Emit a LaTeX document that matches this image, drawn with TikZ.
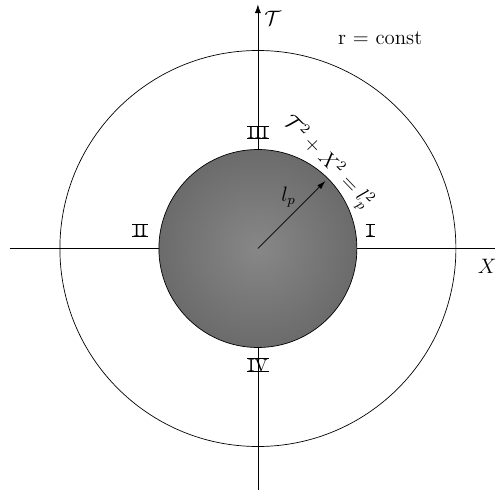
\documentclass[tikz,border=0pt]{standalone}
\usepackage{fontspec}
\usetikzlibrary{arrows.meta}
\tikzset{
  region/.style={inner sep=0pt, font=\normalsize,
    append after command={(\tikzlastnode.north west) ++(-0.5pt,0) edge ([xshift=0.5pt]\tikzlastnode.north east)
      (\tikzlastnode.south west) ++(-0.5pt,0) edge ([xshift=0.5pt]\tikzlastnode.south east)}},
  lab/.style={font=\large}
}
\begin{document}
\begin{tikzpicture}
        \useasboundingbox (-5.21,-4.90) rectangle (4.81,5.02);
        % Points
        \coordinate (O) at (0,0);
        \coordinate (P) at (45:1.93);
        \coordinate (xl) at (-5.01,0);
        \coordinate (xr) at (4.78,0);
        \coordinate (tb) at (0,-4.88);
        \coordinate (tt) at (0,4.93);
        % Axes
        \draw (xl) -- (xr);
        \draw[-{Latex[length=5pt,width=3.5pt]}] (tb) -- (tt);
        % Inner disc and outer circle
        \shade[draw, inner color=black!47, outer color=black!58] (O) circle (2);
        \draw (O) circle (4);
        % Radius
        \draw[-{Latex[length=5pt,width=3pt]}] (O) -- (P);
        % Labels
        \node[lab] (tlab) at (0.3,4.64) {$\mathcal{T}$};
        \node[lab] (xlab) at (4.63,-0.36) {$X$};
        \node[lab] (rlab) at (2.47,4.25) {r = const};
        \node[lab] (lp) at (0.62,1.04) {$l_p$};
        \node[lab, rotate=-46] (eq) at (1.4,1.74) {$\mathcal{T}^2+X^2=l_p^2$};
        % Regions
        \node[region] (r1) at (2.27,0.37) {I};
        \node[region] (r2) at (-2.38,0.37) {II};
        \node[region] (r3) at (0,2.35) {III};
        \node[region] (r4) at (0,-2.36) {IV};
      \end{tikzpicture}
\end{document}
